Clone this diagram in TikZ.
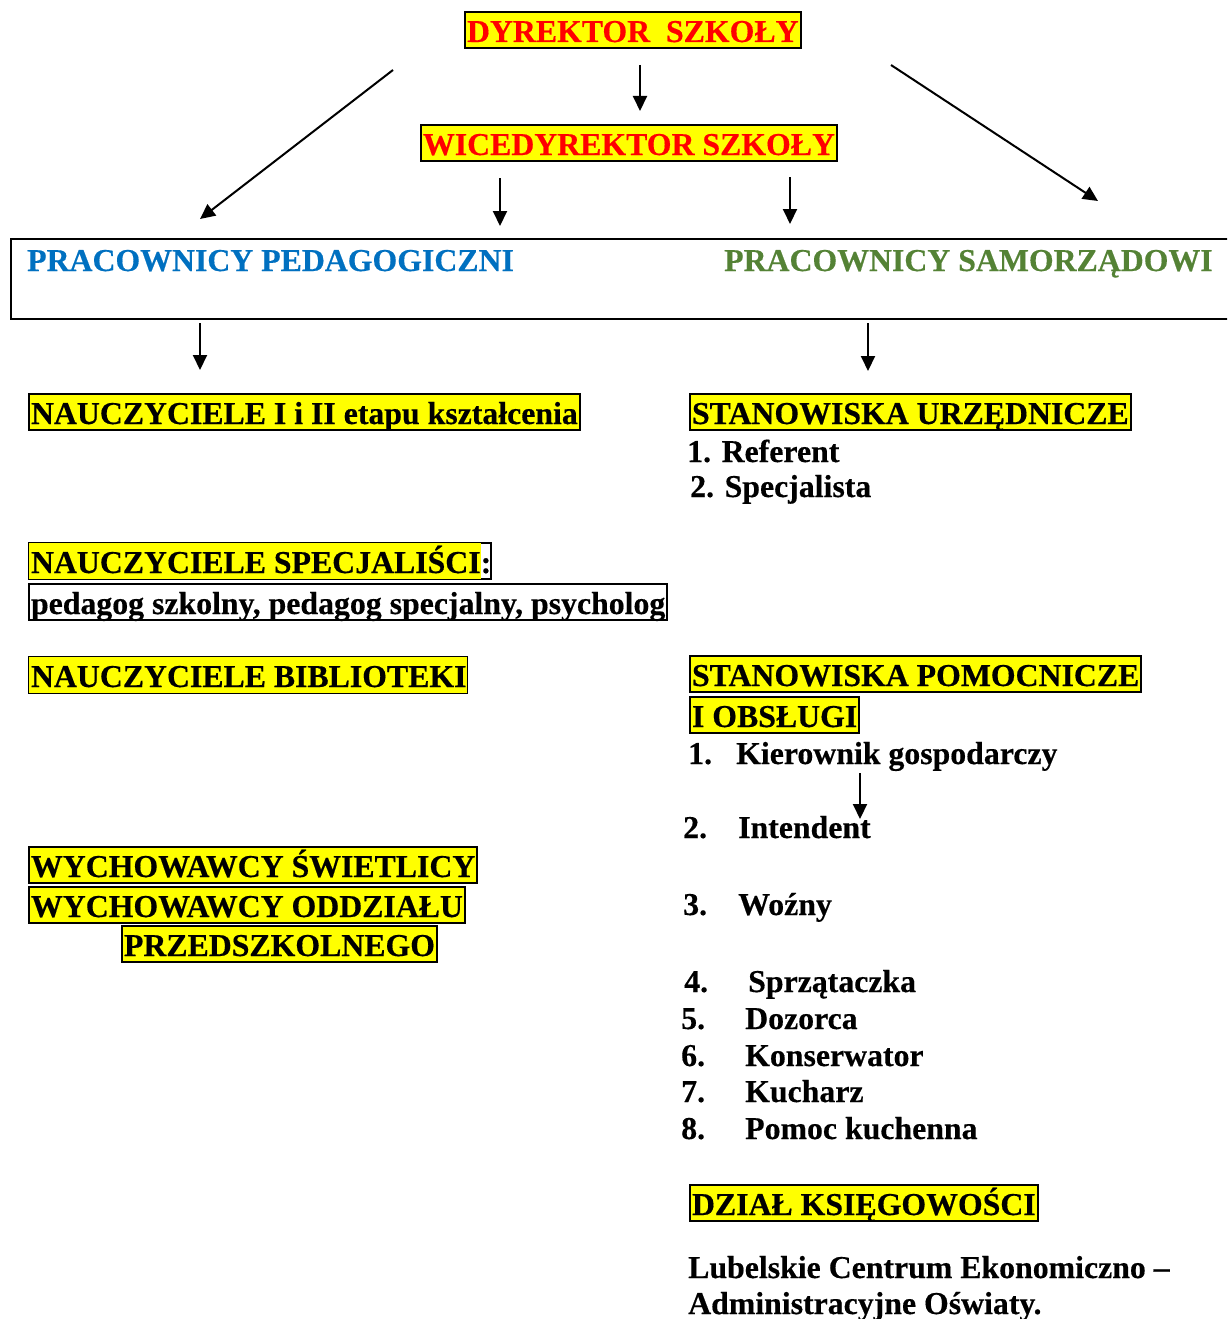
\documentclass[tikz,border=0pt]{standalone}
\usepackage{fontspec}
\setmainfont[BoldFeatures={FakeBold=0.4}]{Liberation Serif}
\usetikzlibrary{arrows.meta}
\definecolor{markyellow}{RGB}{255,255,0}
\definecolor{pedblue}{RGB}{0,112,192}
\definecolor{samgreen}{RGB}{84,130,53}
\newcommand\marked[1]{{\setlength\fboxsep{0pt}\colorbox{markyellow}{\rule[-6pt]{0pt}{36pt}#1}}}

\begin{document}
\begin{tikzpicture}[x=1pt, y=-1pt,
    every node/.style={font=\fontsize{31.8}{36}\selectfont\bfseries, inner sep=0pt},
    yellowbox/.style={draw, line width=2pt, fill=markyellow, inner xsep=2pt, text height=30pt, text depth=6pt, anchor=base west},
    openbox/.style={draw, line width=2pt, fill=white, inner xsep=0pt, text height=30pt, text depth=6pt, anchor=base west},
    freetext/.style={anchor=base west},
    arr/.style={-{Triangle[length=15pt, width=14pt]}, line width=2pt}]
        \path[use as bounding box, clip] (0, 0) rectangle (1227, 1319);

        \node[yellowbox, text=red] (dyr) at (464, 42) {DYREKTOR\ \ SZKOŁY};
        \node[yellowbox, text=red] (wice) at (420, 155) {WICEDYREKTOR SZKOŁY};

        \node[draw, line width=2pt, minimum width=1240pt, minimum height=80pt, anchor=north west] (staff) at (10, 238) {};
        \node[freetext, text=pedblue] (ped) at (27, 271) {PRACOWNICY PEDAGOGICZNI};
        \node[freetext, text=samgreen] (sam) at (724, 271) {PRACOWNICY SAMORZĄDOWI};

        \coordinate (d1) at (640, 65); \coordinate (d2) at (640, 111);
        \coordinate (l1) at (393, 70); \coordinate (l2) at (200, 219);
        \coordinate (r1) at (891, 65); \coordinate (r2) at (1098, 201);
        \coordinate (w1) at (500, 178); \coordinate (w2) at (500, 226);
        \coordinate (w3) at (790, 177); \coordinate (w4) at (790, 224);
        \coordinate (p1) at (200, 323); \coordinate (p2) at (200, 370);
        \coordinate (s1) at (868, 323); \coordinate (s2) at (868, 371);
        \coordinate (k1) at (860, 773); \coordinate (k2) at (860, 819);
        \draw[arr] (d1)--(d2);
        \draw[arr] (l1)--(l2);
        \draw[arr] (r1)--(r2);
        \draw[arr] (w1)--(w2);
        \draw[arr] (w3)--(w4);
        \draw[arr] (p1)--(p2);
        \draw[arr] (s1)--(s2);
        \draw[arr] (k1)--(k2);

        \node[yellowbox] (etap) at (28, 424) {NAUCZYCIELE I i II etapu kształcenia};
        \node[openbox] (spec) at (28, 573) {\marked{\hspace{2pt}NAUCZYCIELE SPECJALIŚCI}:\hspace{2pt}};
        \node[openbox, inner xsep=2pt] (pedag) at (28, 614) {pedagog szkolny, pedagog specjalny, psycholog};
        \node[openbox] (bibl) at (28, 687) {\marked{\hspace{2pt}NAUCZYCIELE BIBLIOTEKI}\hspace{8pt}};
        \node[yellowbox] (swiet) at (28, 877) {WYCHOWAWCY ŚWIETLICY};
        \node[yellowbox] (oddz) at (28, 917) {WYCHOWAWCY ODDZIAŁU};
        \node[yellowbox] (przed) at (121, 956) {PRZEDSZKOLNEGO};

        \node[yellowbox] (urzed) at (689, 424) {STANOWISKA URZĘDNICZE};
        \node[freetext] (ref) at (687, 462) {1. Referent};
        \node[freetext] (spc) at (690, 497) {2. Specjalista};

        \node[yellowbox] (pomoc) at (689, 686) {STANOWISKA POMOCNICZE};
        \node[yellowbox] (obsl) at (689, 727) {I OBSŁUGI};
        \node[freetext] (num1) at (688, 764) {1.};
        \node[freetext] (job1) at (736, 764) {Kierownik gospodarczy};
        \node[freetext] (num2) at (683, 838) {2.};
        \node[freetext] (job2) at (738, 838) {Intendent};
        \node[freetext] (num3) at (683, 915) {3.};
        \node[freetext] (job3) at (738, 915) {Woźny};
        \node[freetext] (num4) at (684, 992) {4.};
        \node[freetext] (job4) at (748, 992) {Sprzątaczka};
        \foreach \n/\y/\t in {5/1029/Dozorca, 6/1066/Konserwator, 7/1102/Kucharz, 8/1139/Pomoc kuchenna} {
            \node[freetext] (num\n) at (681, \y) {\n.};
            \node[freetext] (job\n) at (745, \y) {\t};
        }

        \node[yellowbox] (ksieg) at (689, 1215) {DZIAŁ KSIĘGOWOŚCI};
        \node[freetext] (lce1) at (688, 1278) {Lubelskie Centrum Ekonomiczno –};
        \node[freetext] (lce2) at (688, 1314) {Administracyjne Oświaty.};
      \end{tikzpicture}
\end{document}
